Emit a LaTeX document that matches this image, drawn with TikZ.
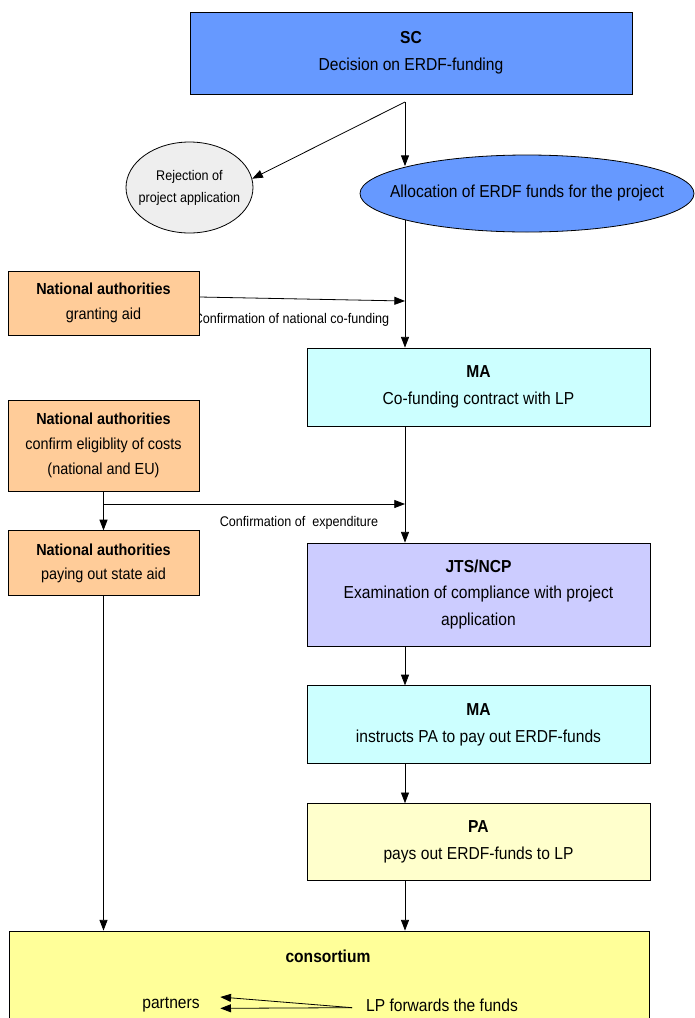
\documentclass[tikz,border=0pt]{standalone}
\usepackage{fontspec}
\setmainfont{Liberation Sans}[FakeStretch=0.9]
\usetikzlibrary{arrows.meta,positioning,shapes.geometric}

\definecolor{scblue}{HTML}{6699FF}
\definecolor{rejgray}{HTML}{EEEEEE}
\definecolor{naorange}{HTML}{FFCC99}
\definecolor{macyan}{HTML}{CCFFFF}
\definecolor{jtsviolet}{HTML}{CCCCFF}
\definecolor{paylight}{HTML}{FFFFCC}
\definecolor{consyellow}{HTML}{FFFF99}

\begin{document}
\begin{tikzpicture}[
    x=0.75pt, y=-0.75pt,
    box/.style={rectangle, draw=black, line width=0.6pt, align=center, inner sep=0pt, font=\fontsize{13}{20}\selectfont},
    nabox/.style={box, fill=naorange, minimum width=143.25pt, execute at begin node={\rule{0pt}{16pt}}, font=\fontsize{12}{18.5}\selectfont},
    colbox/.style={box, minimum width=257.25pt, minimum height=58.5pt},
    oval/.style={ellipse, draw=black, line width=0.6pt, align=center, inner ysep=0pt},
    lbl/.style={inner sep=0pt, font=\fontsize{10.5}{16.5}\selectfont},
    line/.style={draw, line width=0.6pt, -{Triangle[length=8pt,width=6pt]}},
    node distance=29.25pt
]
\useasboundingbox (0,0) rectangle (694,1018);

% Define nodes
\node[box, fill=scblue, minimum width=331.5pt, minimum height=61.5pt] (sc) at (411,53) {\textbf{SC}\\Decision on ERDF-funding};
\coordinate (split) at (405,102);
\node[oval, fill=rejgray, minimum width=95.25pt, minimum height=68.25pt, inner xsep=-5pt, font=\fontsize{10.5}{16.5}\selectfont] (reject) at (189.5,187.5) {Rejection of\\project application};
\node[oval, fill=scblue, minimum width=250.5pt, minimum height=57.75pt, inner xsep=-17pt, font=\fontsize{13}{19.5}\selectfont] (alloc) at (527,193.5) {Allocation of ERDF funds for the project};

\node[lbl] (cofundlbl) at (291.5,320) {Confirmation of national co-funding};
\node[nabox, minimum height=48pt] (nagrant) at (103.5,303) {\textbf{National authorities}\\granting aid};
\coordinate (cofund) at (405,301);

\node[colbox, fill=macyan] (macontract) at (478.5,387) {\textbf{MA}\\Co-funding contract with LP};

\node[nabox, minimum height=68.25pt] (naconfirm) at (103.5,445.5) {\textbf{National authorities}\\confirm eligiblity of costs\\(national and EU)};
\node[nabox, minimum height=48.75pt, below=of naconfirm] (napay) {\textbf{National authorities}\\paying out state aid};
\coordinate (expend) at (405,504);
\node[lbl] (expendlbl) at (299,523) {Confirmation of\ \ expenditure};

\node[colbox, fill=jtsviolet, minimum height=77.25pt] (jts) at (478.5,594.5) {\textbf{JTS/NCP}\\Examination of compliance with project\\application};
\node[colbox, fill=macyan, below=of jts] (mapay) {\textbf{MA}\\instructs PA to pay out ERDF-funds};
\node[colbox, fill=paylight, minimum height=57.75pt, below=of mapay] (papay) {\textbf{PA}\\pays out ERDF-funds to LP};

\node[box, fill=consyellow, minimum width=480pt, minimum height=74.25pt] (consortium) at (329,980.5) {};
\node[font=\fontsize{13}{15}\selectfont\bfseries] (constitle) at (328,956) {consortium};
\node[font=\fontsize{13}{15}\selectfont] (partners) at (171,1005) {partners};
\node[font=\fontsize{13}{15}\selectfont] (lpfwd) at (442,1005) {LP forwards the funds};
\coordinate (fwdout) at ([xshift=-7pt,yshift=-2pt]lpfwd.west);

% Connect nodes
\draw[line] (split) -- (split |- alloc.167.8);
\draw[line] (split) -- (reject.8);
\draw[line] (split |- alloc.192.2) -- (split |- macontract.north);
\draw[line] ([yshift=4.5pt]nagrant.east) -- (cofund);
\draw[line] (macontract.south -| split) -- (jts.north -| split);
\draw[line] (naconfirm.south) -- (napay.north);
\draw[line] (naconfirm.south |- expend) -- (expend);
\draw[line] (jts.south -| split) -- (mapay.north -| split);
\draw[line] (mapay.south -| split) -- (papay.north -| split);
\draw[line] (papay.south -| split) -- (split |- consortium.north);
\draw[line] (napay.south) -- (napay.south |- consortium.north);
\draw[line] (fwdout) -- ([xshift=12pt,yshift=6pt]partners.east);
\draw[line] (fwdout) -- ([xshift=12pt,yshift=-2.5pt]partners.east);

\end{tikzpicture}
\end{document}
